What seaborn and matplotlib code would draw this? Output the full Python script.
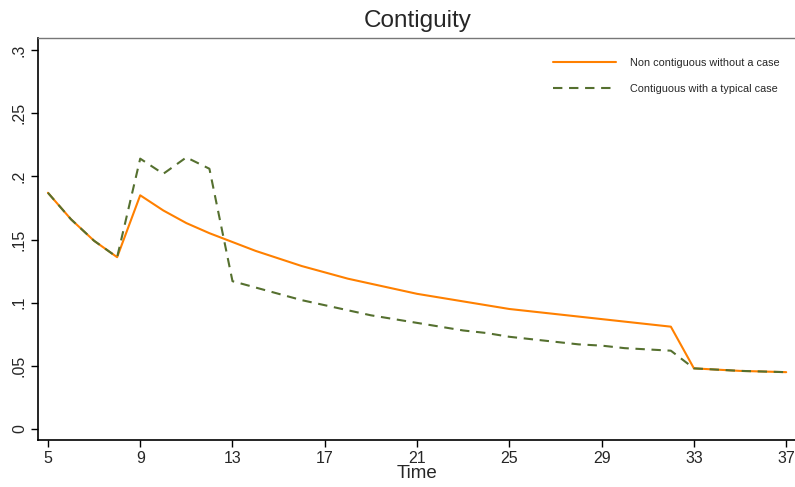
import matplotlib
matplotlib.use("Agg")
import matplotlib.pyplot as plt
import seaborn as sns
import pandas as pd

sns.set_style("white")
plt.rcParams['font.family'] = ['Liberation Sans', 'DejaVu Sans']

time = list(range(5, 38))
non_contig = [0.187, 0.166, 0.149, 0.136, 0.185, 0.173, 0.163, 0.155, 0.148, 0.141,
              0.135, 0.129, 0.124, 0.119, 0.115, 0.111, 0.107, 0.104, 0.101, 0.098,
              0.095, 0.093, 0.091, 0.089, 0.087, 0.085, 0.083, 0.081, 0.048, 0.047,
              0.046, 0.0455, 0.045]
contig = [0.187, 0.166, 0.149, 0.136, 0.214, 0.202, 0.215, 0.206, 0.117, 0.112,
          0.107, 0.102, 0.098, 0.094, 0.090, 0.087, 0.084, 0.081, 0.078, 0.076,
          0.073, 0.071, 0.069, 0.067, 0.066, 0.064, 0.063, 0.062, 0.048, 0.047,
          0.046, 0.0455, 0.045]
labels = ["Non contiguous without a case", "Contiguous with a typical case"]
xticks = [5, 9, 13, 17, 21, 25, 29, 33, 37]
yticks = [0, 0.05, 0.1, 0.15, 0.2, 0.25, 0.3]
yticklabels = ["0", ".05", ".1", ".15", ".2", ".25", ".3"]

df = pd.DataFrame({"Time": time * 2,
                   "value": non_contig + contig,
                   "series": [labels[0]] * len(time) + [labels[1]] * len(time)})

fig = plt.figure(figsize=(7.95, 4.87), dpi=100)
ax = fig.add_axes([38/795, 1 - 440/487, 1 - 38/795 + 0.002, (440 - 38)/487])

sns.lineplot(data=df, x="Time", y="value", hue="series", style="series",
             palette={labels[0]: "#FF8000", labels[1]: "#55702F"},
             dashes={labels[0]: "", labels[1]: (4.5, 3.2)},
             linewidth=1.5, ax=ax)

ax.set_xlim(4.57, 37.45)
ax.set_ylim(-0.0087, 0.3095)
ax.set_xticks(xticks)
ax.set_xticklabels([str(t) for t in xticks], fontsize=11.5)
ax.set_yticks(yticks)
ax.set_yticklabels(yticklabels, fontsize=11.5, rotation=90, va='center')
ax.tick_params(axis='both', direction='out', length=5, width=1, color='black',
               bottom=True, left=True, pad=3)
ax.set_xlabel("Time", fontsize=13.5, labelpad=-1)
ax.set_ylabel("")
ax.set_title("Contiguity", fontsize=17.5, pad=8)

for s in ['left', 'bottom']:
    ax.spines[s].set_color('black')
    ax.spines[s].set_linewidth(1.2)
ax.spines['top'].set_color('#777777')
ax.spines['top'].set_linewidth(1.0)
ax.spines['right'].set_visible(False)

leg = ax.legend(loc='upper right', bbox_to_anchor=(0.99, 0.975), frameon=False,
                fontsize=7.8, handlelength=5.8, labelspacing=1.5, handletextpad=1.3)

fig.savefig("out.png", dpi=100)
